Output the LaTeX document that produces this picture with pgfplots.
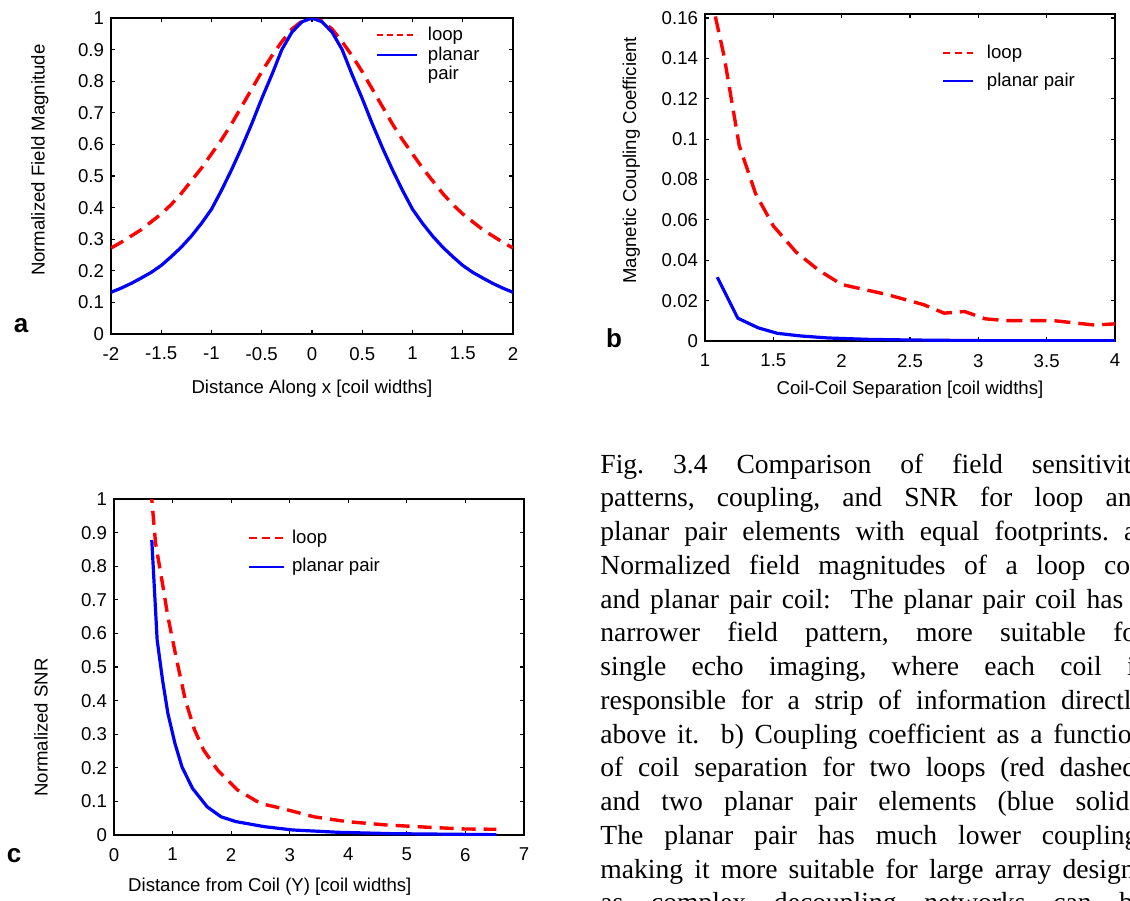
\documentclass[border=0pt]{standalone}
\usepackage{fontspec}
\setmainfont{Liberation Sans}
\newfontfamily\capfont{Liberation Serif}
\usepackage{pgfplots}
\pgfplotsset{compat=1.18}

\pgfplotstableread{
x y
-2.0 0.272
-1.9 0.290
-1.8 0.310
-1.7 0.330
-1.6 0.355
-1.5 0.380
-1.4 0.410
-1.3 0.445
-1.2 0.485
-1.1 0.525
-1.0 0.570
-0.9 0.615
-0.8 0.665
-0.7 0.720
-0.6 0.775
-0.5 0.830
-0.4 0.880
-0.3 0.925
-0.2 0.965
-0.1 0.990
0.0 1.000
0.1 0.990
0.2 0.965
0.3 0.925
0.4 0.880
0.5 0.830
0.6 0.775
0.7 0.720
0.8 0.665
0.9 0.615
1.0 0.570
1.1 0.525
1.2 0.485
1.3 0.445
1.4 0.410
1.5 0.380
1.6 0.355
1.7 0.330
1.8 0.310
1.9 0.290
2.0 0.272
}\aloop

\pgfplotstableread{
x y
-2.0 0.132
-1.9 0.145
-1.8 0.160
-1.7 0.177
-1.6 0.195
-1.5 0.217
-1.4 0.245
-1.3 0.275
-1.2 0.310
-1.1 0.350
-1.0 0.395
-0.9 0.455
-0.8 0.520
-0.7 0.590
-0.6 0.665
-0.5 0.745
-0.4 0.820
-0.3 0.900
-0.2 0.955
-0.1 0.988
0.0 1.000
0.1 0.988
0.2 0.955
0.3 0.900
0.4 0.820
0.5 0.745
0.6 0.665
0.7 0.590
0.8 0.520
0.9 0.455
1.0 0.395
1.1 0.350
1.2 0.310
1.3 0.275
1.4 0.245
1.5 0.217
1.6 0.195
1.7 0.177
1.8 0.160
1.9 0.145
2.0 0.132
}\aplanar

\pgfplotstableread{
x y
1.00 0.184
1.14 0.141
1.25 0.097
1.37 0.073
1.50 0.057
1.667 0.044
1.833 0.035
2.00 0.028
2.333 0.023
2.60 0.018
2.75 0.0138
2.90 0.0146
3.05 0.0110
3.20 0.0101
3.55 0.0101
3.85 0.0079
4.00 0.0085
}\bloop

\pgfplotstableread{
x y
1.09 0.0316
1.24 0.0113
1.39 0.0065
1.53 0.0038
1.70 0.0025
1.90 0.0015
2.20 0.0008
2.50 0.0005
3.00 0.0002
4.00 0.0001
}\bplanar

\pgfplotstableread{
x y
0.63 1.03
0.71 0.868
0.827 0.749
0.92 0.650
1.07 0.521
1.22 0.400
1.376 0.3125
1.53 0.253
1.77 0.193
2.11 0.134
2.50 0.094
2.87 0.079
3.42 0.054
3.97 0.040
4.64 0.030
5.37 0.023
5.98 0.018
6.53 0.017
}\cloop

\pgfplotstableread{
x y
0.645 0.878
0.737 0.580
0.83 0.460
0.92 0.362
1.04 0.273
1.16 0.203
1.34 0.139
1.59 0.084
1.83 0.054
2.08 0.040
2.56 0.025
3.05 0.015
3.84 0.008
4.76 0.004
6.53 0.001
}\cplanar

\newcommand{\tickfont}{\fontsize{9.3}{11}\selectfont}
\pgfplotsset{
  mstyle/.style={
    scale only axis,
    axis line style={line width=0.7pt},
    tick style={black, line width=0.6pt},
    major tick length=2pt,
    tick align=inside,
    xtick pos=both, ytick pos=both,
    ticklabel style={font=\tickfont},
    label style={font=\tickfont},
    /pgf/number format/assume math mode=true,
    /pgf/number format/fixed,
    /pgf/number format/precision=2,
    scaled ticks=false,
    xticklabel style={yshift=-3pt},
    legend cell align=left,
    legend style={draw=none, fill=none, inner sep=0pt, outer sep=0pt,
      nodes={inner sep=0pt, font=\tickfont},
      /tikz/every odd column/.append style={column sep=5pt}},
  },
  loopst/.style={red, line width=1.7pt, dash pattern=on 7pt off 4pt},
  planst/.style={blue, line width=1.6pt},
  legloop/.style={color=red, draw=red, line width=1pt},
  legplan/.style={color=blue, draw=blue, line width=1pt},
}

\begin{document}
\begin{tikzpicture}[x=0.5pt,y=-0.5pt]
\useasboundingbox (0,0) rectangle (1130,900);
\clip (0,0) rectangle (1130,900);

% ---------- a ----------
\begin{axis}[mstyle,
  at={(55.5pt,-167pt)}, anchor=south west,
  width=201pt, height=158pt,
  xmin=-2, xmax=2, ymin=0, ymax=1,
  xtick={-2,-1.5,...,2}, ytick={0,0.1,...,1},
  xlabel={Distance Along x [coil widths]},
  ylabel={Normalized Field Magnitude},
  xlabel style={at={(axis description cs:0.5,-0.172)}, anchor=center},
  ylabel style={at={(axis description cs:-0.177,0.55)}, anchor=center},
  legend style={at={(axis description cs:0.659,0.971)}, anchor=north west, row sep=1.5pt},
  legend image code/.code={\draw[#1] (0pt,0pt) -- (20pt,0pt);},
]
\addplot[loopst, forget plot] table {\aloop};
\addplot[planst, forget plot] table {\aplanar};
\addlegendimage{legloop, dash pattern=on 3pt off 2pt}
\addlegendentry{loop}
\addlegendimage{legplan}
\addlegendentry{planar}
\addlegendimage{empty legend}
\addlegendentry{pair}
\end{axis}

% ---------- b ----------
\begin{axis}[mstyle,
  at={(352.5pt,-170.5pt)}, anchor=south west,
  width=205pt, height=163.5pt,
  xmin=1, xmax=4, ymin=0, ymax=0.162,
  xtick={1,1.5,...,4}, ytick={0,0.02,...,0.16},
  xlabel={Coil-Coil Separation [coil widths]},
  ylabel={Magnetic Coupling Coefficient},
  xlabel style={at={(axis description cs:0.5,-0.150)}, anchor=center},
  ylabel style={at={(axis description cs:-0.18,0.553)}, anchor=center},
  legend style={at={(axis description cs:0.578,0.905)}, anchor=north west, row sep=5.5pt,
    /tikz/every odd column/.append style={column sep=6.5pt}},
  legend image code/.code={\draw[#1] (0pt,0pt) -- (15pt,0pt);},
]
\addplot[loopst, dash pattern=on 8pt off 4pt, forget plot] table {\bloop};
\addplot[planst, forget plot] table {\bplanar};
\addlegendimage{legloop, dash pattern=on 3.5pt off 2.5pt}
\addlegendentry{loop}
\addlegendimage{legplan}
\addlegendentry{planar pair}
\end{axis}

% ---------- c ----------
\begin{axis}[mstyle,
  at={(57pt,-417.5pt)}, anchor=south west,
  width=205pt, height=168pt,
  xmin=0, xmax=7, ymin=0, ymax=1,
  xtick={0,1,...,7}, ytick={0,0.1,...,1},
  xlabel={Distance from Coil (Y) [coil widths]},
  ylabel={Normalized SNR},
  xlabel style={at={(axis description cs:0.38,-0.155)}, anchor=center},
  ylabel style={at={(axis description cs:-0.178,0.32)}, anchor=center},
  legend style={at={(axis description cs:0.327,0.908)}, anchor=north west, row sep=6pt,
    /tikz/every odd column/.append style={column sep=3.5pt}},
  legend image code/.code={\draw[#1] (0pt,0pt) -- (17.5pt,0pt);},
]
\addplot[loopst, forget plot] table {\cloop};
\addplot[planst, forget plot] table {\cplanar};
\addlegendimage{legloop, dash pattern=on 4pt off 2.5pt}
\addlegendentry{loop}
\addlegendimage{legplan}
\addlegendentry{planar pair}
\end{axis}

% panel letters
\node[anchor=base, inner sep=0, font=\bfseries\fontsize{13}{13}\selectfont] at (21,332) {a};
\node[anchor=base, inner sep=0, font=\bfseries\fontsize{13}{13}\selectfont] at (614,347) {b};
\node[anchor=base, inner sep=0, font=\bfseries\fontsize{13}{13}\selectfont] at (14,862) {c};

% caption
\node[anchor=base west, inner sep=0] at (600,473) {\parbox[t]{272.5pt}{\capfont\fontsize{13.8}{16.875}\selectfont\frenchspacing
\makebox[272.5pt][s]{Fig. 3.4 Comparison of field sensitivity}\\
\makebox[272.5pt][s]{patterns, coupling, and SNR for loop and}\\
\makebox[272.5pt][s]{planar pair elements with equal footprints. a)}\\
\makebox[272.5pt][s]{Normalized field magnitudes of a loop coil}\\
\makebox[272.5pt][s]{and planar pair coil:\ \ The planar pair coil has a}\\
\makebox[272.5pt][s]{narrower field pattern, more suitable for}\\
\makebox[272.5pt][s]{single echo imaging, where each coil is}\\
\makebox[272.5pt][s]{responsible for a strip of information directly}\\
\makebox[272.5pt][s]{above it.\ \ b) Coupling coefficient as a function}\\
\makebox[272.5pt][s]{of coil separation for two loops (red dashed)}\\
\makebox[272.5pt][s]{and two planar pair elements (blue solid).}\\
\makebox[272.5pt][s]{The planar pair has much lower coupling,}\\
\makebox[272.5pt][s]{making it more suitable for large array designs}\\
\makebox[272.5pt][s]{as complex decoupling networks can be}}};
\end{tikzpicture}
\end{document}
